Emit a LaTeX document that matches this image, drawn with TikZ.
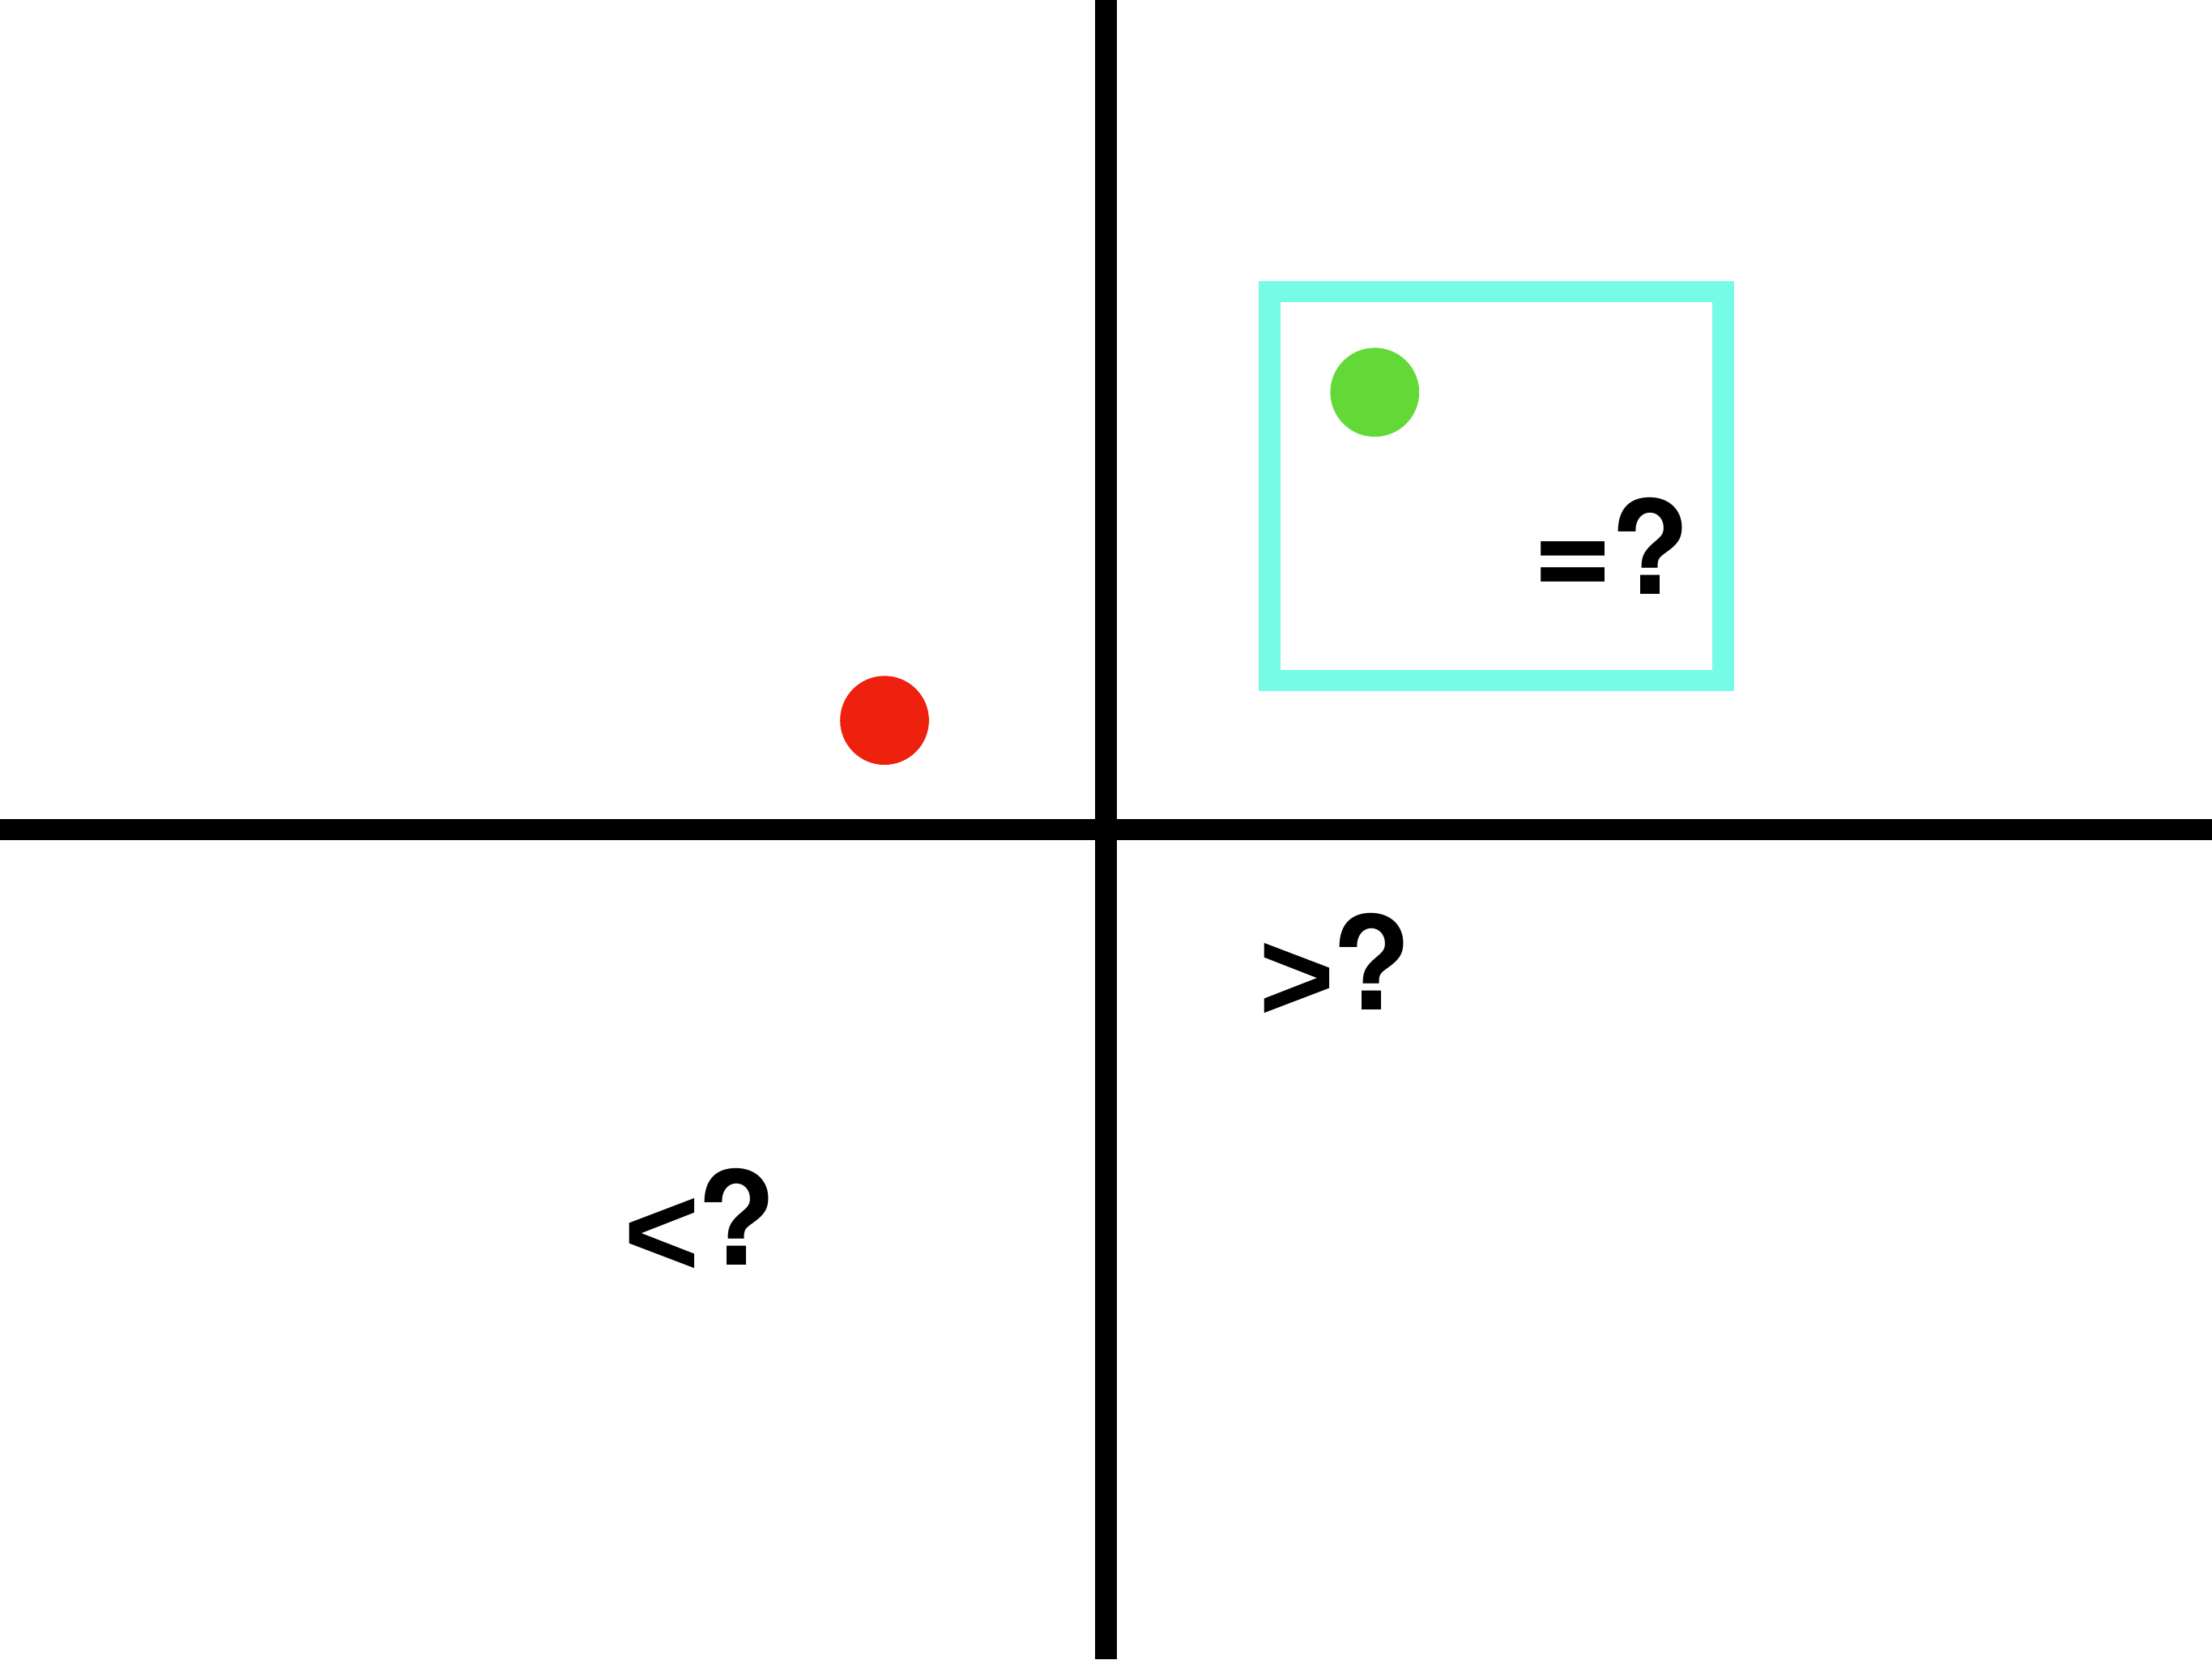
\documentclass[tikz,border=0pt]{standalone}
\usepackage{fontspec}
\setmainfont{TeX Gyre Heros}
\newfontfamily\symfont{Liberation Sans}
\newcommand{\symb}[1]{\kern2pt\raisebox{-8pt}{\symfont #1}\kern-2pt}
\newcommand{\eqsymb}{\kern1.5pt\raisebox{-2.5pt}{\scalebox{1.06}[1.1]{=}}\kern-1.5pt}
\definecolor{boxcyan}{RGB}{118,252,230}
\definecolor{dotgreen}{RGB}{98,217,55}
\definecolor{dotred}{RGB}{238,32,14}
\tikzset{
  axisline/.style={line width=15pt, black},
  dotnode/.style={circle, minimum size=63pt, inner sep=0pt, draw=none},
  sign/.style={font=\fontsize{92}{110}\selectfont\bfseries, inner sep=0pt, anchor=base}
}
\begin{document}
\begin{tikzpicture}[x=1pt,y=-1pt]
\useasboundingbox (0,0) rectangle (1568,1176);
\fill[white] (0,0) rectangle (1568,1176);
% axes
\coordinate (vt) at (784,0);
\coordinate (vb) at (784,1176);
\coordinate (hl) at (0,588);
\coordinate (hr) at (1568,588);
\draw[axisline] (vt) -- (vb);
\draw[axisline] (hl) -- (hr);
% box
\draw[boxcyan, line width=15pt] (900,206.5) rectangle (1221.5,482.5);
% dots
\node[dotnode, fill=dotgreen] (green) at (974.5,278) {};
\node[dotnode, fill=dotred] (red) at (627,510.5) {};
% labels
\node[sign] (eq) at (1141.5,421) {\eqsymb?};
\node[sign] (lt) at (495.5,896.5) {\symb{<}?};
\node[sign] (gt) at (945.5,715.8) {\symb{>}?};
\end{tikzpicture}
\end{document}
